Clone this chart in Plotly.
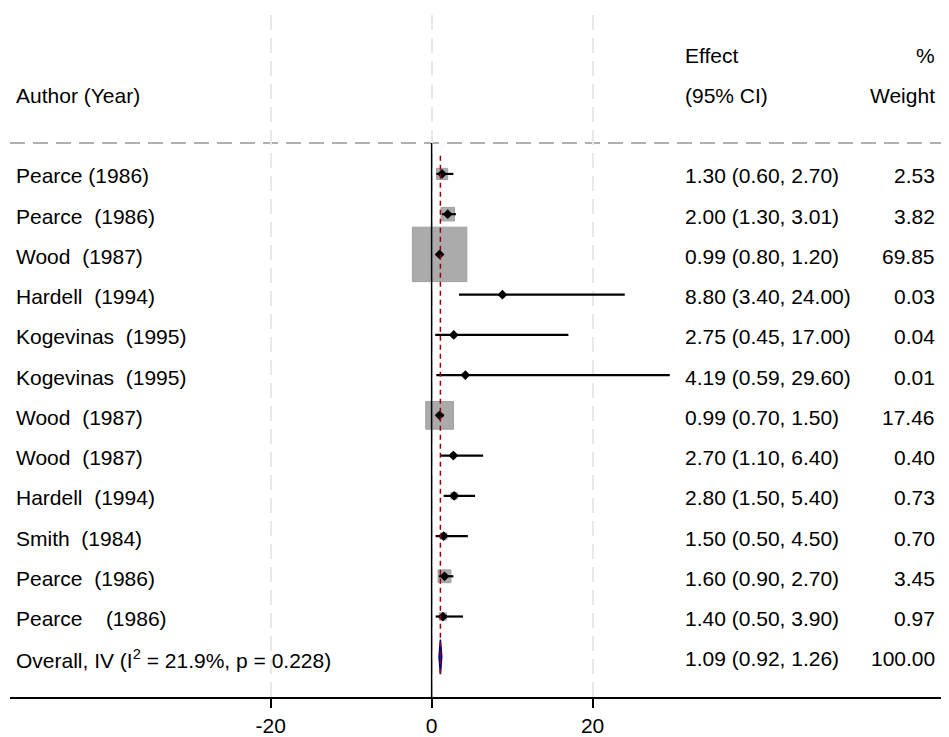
import plotly.graph_objects as go
import math

labels = ["Pearce (1986)", "Pearce  (1986)", "Wood  (1987)", "Hardell  (1994)",
          "Kogevinas  (1995)", "Kogevinas  (1995)", "Wood  (1987)", "Wood  (1987)",
          "Hardell  (1994)", "Smith  (1984)", "Pearce  (1986)", "Pearce    (1986)"]
est = [1.30, 2.00, 0.99, 8.80, 2.75, 4.19, 0.99, 2.70, 2.80, 1.50, 1.60, 1.40]
lo = [0.60, 1.30, 0.80, 3.40, 0.45, 0.59, 0.70, 1.10, 1.50, 0.50, 0.90, 0.50]
hi = [2.70, 3.01, 1.20, 24.00, 17.00, 29.60, 1.50, 6.40, 5.40, 4.50, 2.70, 3.90]
weights = [2.53, 3.82, 69.85, 0.03, 0.04, 0.01, 17.46, 0.40, 0.73, 0.70, 3.45, 0.97]

overall_label = "Overall, IV (I<sup>2</sup> = 21.9%, p = 0.228)"
overall_est, overall_lo, overall_hi, overall_w = 1.09, 0.92, 1.26, 100.00

x_ticks = [-20, 0, 20]
x_range = [-52.4, 64.3]

FONT = "Liberation Sans, Arial, sans-serif"
FS = 21
n = len(labels)
rows = list(range(n))
overall_row = n
header_line_y = -0.77

fig = go.Figure()

# weight boxes
fig.add_trace(go.Scatter(
    x=est, y=rows, mode="markers",
    marker=dict(symbol="square", size=[6.4 * math.sqrt(w) + 1 for w in weights],
                color="#ababab", opacity=1, line=dict(color="#a0a0a0", width=1)),
    hoverinfo="skip", showlegend=False))

# CIs and point estimates
fig.add_trace(go.Scatter(
    x=est, y=rows, mode="markers",
    error_x=dict(type="data", symmetric=False,
                 array=[h - e for h, e in zip(hi, est)],
                 arrayminus=[e - l for e, l in zip(est, lo)],
                 color="black", thickness=2.2, width=0),
    marker=dict(symbol="diamond", size=7.5, color="black"),
    hoverinfo="skip", showlegend=False))

# overall diamond
dh = 0.43
fig.add_trace(go.Scatter(
    x=[overall_lo, overall_est, overall_hi, overall_est, overall_lo],
    y=[overall_row, overall_row - dh, overall_row, overall_row + dh, overall_row],
    mode="lines", fill="toself", fillcolor="#1a1a86",
    line=dict(color="#000080", width=1.5),
    hoverinfo="skip", showlegend=False))

shapes = [
    # header separator
    dict(type="line", xref="paper", x0=0, x1=1, yref="y", y0=header_line_y, y1=header_line_y,
         line=dict(color="#b0b0b0", width=2, dash="15px,8px"), layer="below"),
    # null line
    dict(type="line", xref="x", x0=0, x1=0, yref="y", y0=header_line_y, y1=overall_row + 1,
         line=dict(color="black", width=1.5), layer="above"),
    # overall effect line
    dict(type="line", xref="x", x0=overall_est, x1=overall_est, yref="y",
         y0=-0.45, y1=overall_row + 0.47,
         line=dict(color="#9b0000", width=1.5, dash="5px,4px"), layer="above"),
]

annotations = []
x_lab = -51.9
x_eff = 31.3
x_wt = 62.85

def txt(x, y, s, anchor):
    annotations.append(dict(x=x, y=y, xref="x", yref="y", text=s, showarrow=False,
                            xanchor=anchor, yanchor="middle", yshift=-2,
                            font=dict(family=FONT, size=FS, color="black")))

txt(x_lab, -2, "Author (Year)", "left")
txt(x_eff, -3, "Effect", "left")
txt(x_eff, -2, "(95% CI)", "left")
txt(x_wt, -3, "%", "right")
txt(x_wt, -2, "Weight", "right")

for i in range(n):
    txt(x_lab, i, labels[i].replace(" ", "\u00a0"), "left")
    txt(x_eff, i, f"{est[i]:.2f} ({lo[i]:.2f}, {hi[i]:.2f})", "left")
    txt(x_wt, i, f"{weights[i]:.2f}", "right")

txt(x_lab, overall_row, overall_label, "left")
txt(x_eff, overall_row, f"{overall_est:.2f} ({overall_lo:.2f}, {overall_hi:.2f})", "left")
txt(x_wt, overall_row, f"{overall_w:.2f}", "right")

# page body has an 8px default margin; size the figure so the plot lands where the reference has it
fig.update_layout(
    width=941, height=729,
    margin=dict(l=2, r=0, t=7, b=36),
    paper_bgcolor="white", plot_bgcolor="white",
    shapes=shapes, annotations=annotations,
    showlegend=False,
    xaxis=dict(range=x_range, tickvals=x_ticks, ticktext=[str(t) for t in x_ticks],
               showgrid=True, gridcolor="#e8e8e8", gridwidth=2, griddash="15px,8px",
               zeroline=False, showline=True, linecolor="black", linewidth=1.5,
               ticks="outside", ticklen=9, tickwidth=1.5, tickcolor="black",
               tickfont=dict(family=FONT, size=FS, color="black"),
               fixedrange=True),
    yaxis=dict(range=[overall_row + 1, -3.95], showgrid=False, zeroline=False,
               showticklabels=False, showline=False, ticks="", fixedrange=True),
)

fig.write_html("out.html")
